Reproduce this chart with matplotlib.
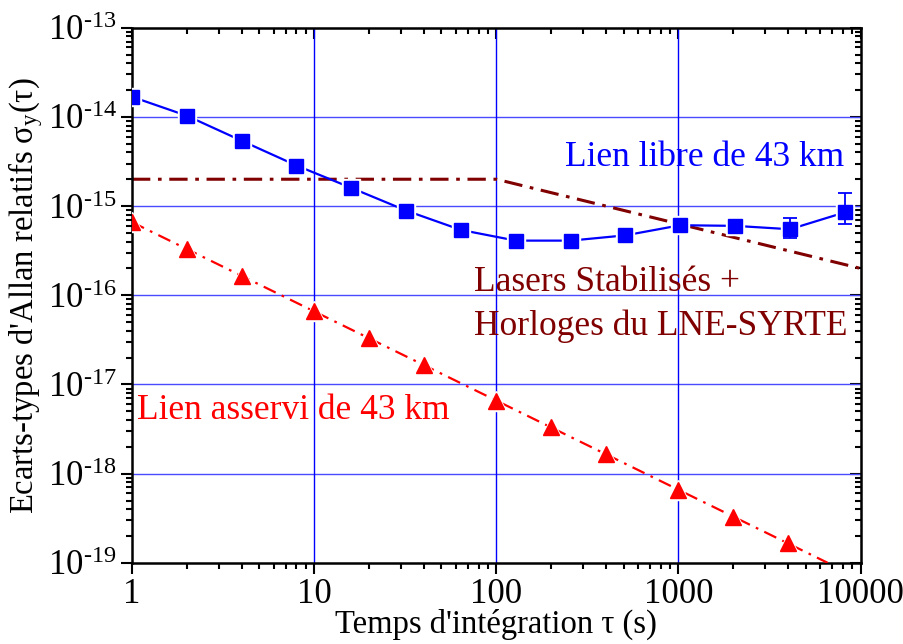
import numpy as np
import matplotlib
matplotlib.use("Agg")
import matplotlib.pyplot as plt
from matplotlib.ticker import LogLocator, FuncFormatter, NullFormatter

plt.rcParams["font.family"] = ["Liberation Serif", "DejaVu Serif"]
plt.rcParams["mathtext.fontset"] = "custom"
plt.rcParams["mathtext.rm"] = "Liberation Serif"
plt.rcParams["mathtext.it"] = "Liberation Serif:italic"
plt.rcParams["axes.unicode_minus"] = False

# free-running 43 km link (Allan deviation)
tau_free = [1, 2, 4, 8, 16, 32, 64, 128, 256, 512, 1024, 2048, 4096, 8192]
adev_free = [1.68e-14, 1.03e-14, 5.4e-15, 2.85e-15, 1.6e-15, 8.9e-16, 5.4e-16,
             4.1e-16, 4.1e-16, 4.7e-16, 6.1e-16, 6.0e-16, 5.5e-16, 8.5e-16]
err_free_lo = [0, 0, 0, 0, 0, 0, 0, 0, 0, 0, 0, 0.4e-16, 1.1e-16, 2.2e-16]
err_free_hi = [0, 0, 0, 0, 0, 0, 0, 0, 0, 0, 0, 0.5e-16, 1.8e-16, 5.5e-16]

# compensated 43 km link
tau_lock = [1, 2, 4, 10, 20, 40, 100, 200, 400, 1000, 2000, 4000]
adev_lock = [6.6e-16, 3.3e-16, 1.65e-16, 6.6e-17, 3.3e-17, 1.65e-17,
             6.6e-18, 3.3e-18, 1.65e-18, 6.6e-19, 3.3e-19, 1.65e-19]
err_lock = [0, 0, 0, 0, 0.4e-17, 0, 0, 0.4e-18, 0, 0, 0, 0]
tau_lock_fit = [1, 6600]
adev_lock_fit = [6.6e-16, 1.0e-19]

# stabilised lasers + LNE-SYRTE clocks
tau_ref = [1, 100, 10000]
adev_ref = [2e-15, 2e-15, 2e-16]

fig = plt.figure(figsize=(9.04, 6.44), dpi=100)
ax = fig.add_axes([0.146, 0.126, 0.806, 0.831])
ax.set_xscale("log")
ax.set_yscale("log")
ax.set_xlim(1, 10000)
ax.set_ylim(1e-19, 1e-13)

for v in [1e-18, 1e-17, 1e-16, 1e-15, 1e-14]:
    ax.axhline(v, color="#4a4aff", lw=1.0, zorder=1)
for v in [10, 100, 1000]:
    ax.axvline(v, color="#0000ff", lw=1.0, zorder=1)

# reference floor
ax.plot(tau_ref, adev_ref, color="#800000", lw=2.2, dashes=(6, 2.5, 1.2, 2.5), zorder=2)

# compensated link
ax.plot(tau_lock_fit, adev_lock_fit, color="#ff0000", lw=1.6, dashes=(6, 3, 1.2, 3), zorder=3)
ax.plot(tau_lock, adev_lock, ls="none", marker="^", ms=14, color="white", zorder=4)
ax.errorbar(tau_lock, adev_lock, yerr=err_lock, fmt="none", ecolor="#ff0000", elinewidth=1.2, zorder=5)
ax.plot(tau_lock, adev_lock, ls="none", marker="^", ms=11.5, color="#ff0000", zorder=6)

# free link
ax.plot(tau_free, adev_free, color="#0000ff", lw=1.6, zorder=3)
ax.plot(tau_free, adev_free, ls="none", marker="s", ms=13, color="white", zorder=4)
ax.errorbar(tau_free, adev_free, yerr=[err_free_lo, err_free_hi], fmt="none",
            ecolor="#0000ff", elinewidth=1.3, capsize=5, capthick=1.3, zorder=5)
ax.plot(tau_free, adev_free, ls="none", marker="s", ms=10, color="#0000ff", zorder=6)

ax.text(0.594, 0.757, "Lien libre de 43 km", transform=ax.transAxes, color="#0000ff",
        fontsize=25.5, ha="left", va="center")
ax.text(0.470, 0.523, "Lasers Stabilisés +", transform=ax.transAxes, color="#800000",
        fontsize=25.5, ha="left", va="center")
ax.text(0.469, 0.443, "Horloges du LNE-SYRTE", transform=ax.transAxes, color="#800000",
        fontsize=25.5, ha="left", va="center")
ax.text(0.007, 0.284, "Lien asservi de 43 km", transform=ax.transAxes, color="#ff0000",
        fontsize=25.5, ha="left", va="center")


def pow10_label(v, pos):
    e = int(round(np.log10(v)))
    sign = "\\text{-}" if e < 0 else ""
    return f"10$^{{{sign}\\mathregular{{{abs(e)}}}}}$"


ax.xaxis.set_major_locator(LogLocator(base=10, numticks=10))
ax.xaxis.set_minor_locator(LogLocator(base=10, subs=np.arange(2, 10), numticks=10))
ax.xaxis.set_major_formatter(FuncFormatter(lambda x, pos: f"{x:g}"))
ax.xaxis.set_minor_formatter(NullFormatter())
ax.yaxis.set_major_locator(LogLocator(base=10, numticks=10))
ax.yaxis.set_minor_locator(LogLocator(base=10, subs=np.arange(2, 10), numticks=10))
ax.yaxis.set_major_formatter(FuncFormatter(pow10_label))
ax.yaxis.set_minor_formatter(NullFormatter())

ax.tick_params(which="both", direction="out", labelsize=25, width=1.5, colors="black")
ax.tick_params(which="major", length=8)
ax.tick_params(which="minor", length=4.5)
ax.tick_params(axis="x", pad=3)
ax.tick_params(axis="y", pad=3)
for s in ax.spines.values():
    s.set_linewidth(1.8)

# inward ticks on the top and right edges
secx = ax.secondary_xaxis("top")
secx.tick_params(which="both", direction="in", labeltop=False, width=1.5)
secx.tick_params(which="major", length=8)
secx.tick_params(which="minor", length=4.5)
secx.xaxis.set_major_formatter(NullFormatter())
secx.xaxis.set_minor_formatter(NullFormatter())
secy = ax.secondary_yaxis("right")
secy.tick_params(which="both", direction="in", labelright=False, width=1.5)
secy.tick_params(which="major", length=8)
secy.tick_params(which="minor", length=4.5)
secy.yaxis.set_major_formatter(NullFormatter())
secy.yaxis.set_minor_formatter(NullFormatter())

ax.set_xlabel("Temps d'intégration τ (s)", fontsize=23.5, labelpad=-2)
ax.set_ylabel("Ecarts-types d'Allan relatifs σ$_\\mathregular{y}$(τ)", fontsize=23.5, labelpad=2)

fig.savefig("out.png", dpi=100)
